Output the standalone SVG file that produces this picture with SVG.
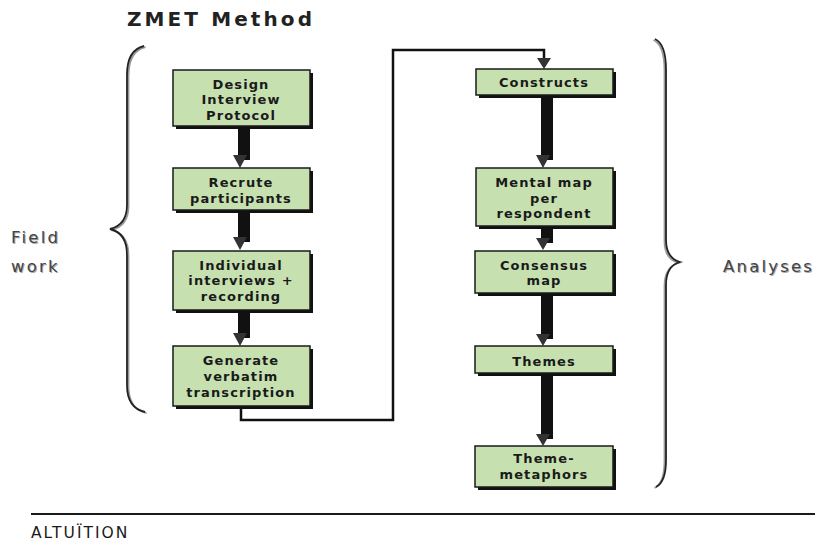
<svg xmlns="http://www.w3.org/2000/svg" width="815" height="541" viewBox="0 0 815 541">
<style>
.box{fill:#c6e0b0;stroke:#1a1a1a;stroke-width:1.5}
.sh{fill:#111}
.bt{font-family:"DejaVu Sans",Verdana,sans-serif;font-weight:bold;font-size:13px;fill:#1a1a1a;text-anchor:middle;letter-spacing:1.1px}
.side{font-family:"DejaVu Sans",Verdana,sans-serif;font-size:16.5px;fill:#444;letter-spacing:2.2px}
.sideSh{font-family:"DejaVu Sans",Verdana,sans-serif;font-size:16.5px;fill:#aaa;letter-spacing:2.2px}
.shaft{fill:#111}
.head{fill:#333}
.brace{fill:none;stroke:#222;stroke-width:1.8}
.braceSh{fill:none;stroke:#999;stroke-width:1.8}
</style>
<rect width="815" height="541" fill="#fff"/>
<text x="127" y="26" font-family="DejaVu Sans,Verdana,sans-serif" font-weight="bold" font-size="20" fill="#222" letter-spacing="3.1">ZMET Method</text>

<g id="connectors">
  <rect class="shaft" x="238" y="127" width="12" height="33"/>
  <polygon class="head" points="233,155 247,155 240,168"/>
  <rect class="shaft" x="238" y="211" width="12" height="31"/>
  <polygon class="head" points="233,237 247,237 240,250"/>
  <rect class="shaft" x="238" y="311" width="12" height="27"/>
  <polygon class="head" points="233,333 247,333 240,346"/>
  <polyline points="241,407 241,420 393,420 393,50 544,50 544,60" fill="none" stroke="#111" stroke-width="2.5"/>
  <polygon class="head" points="537,58 551,58 544,69"/>
  <rect class="shaft" x="541" y="96" width="12" height="64"/>
  <polygon class="head" points="536,155 550,155 543,168"/>
  <rect class="shaft" x="541" y="227" width="12" height="16"/>
  <polygon class="head" points="536,238 550,238 543,250"/>
  <rect class="shaft" x="541" y="294" width="12" height="45"/>
  <polygon class="head" points="536,334 550,334 543,346"/>
  <rect class="shaft" x="541" y="374" width="12" height="65"/>
  <polygon class="head" points="536,434 550,434 543,446"/>
</g>

<g id="n1"><rect class="sh" x="176" y="73" width="137" height="56"/><rect class="box" x="173" y="70" width="137" height="56"/>
<text class="bt" x="241" y="89">Design</text><text class="bt" x="241" y="104">Interview</text><text class="bt" x="241" y="120">Protocol</text></g>
<g id="n2"><rect class="sh" x="176" y="171" width="137" height="42"/><rect class="box" x="173" y="168" width="137" height="42"/>
<text class="bt" x="241" y="187">Recrute</text><text class="bt" x="241" y="203">participants</text></g>
<g id="n3"><rect class="sh" x="176" y="254" width="137" height="59"/><rect class="box" x="173" y="251" width="137" height="59"/>
<text class="bt" x="241" y="270">Individual</text><text class="bt" x="241" y="285">interviews +</text><text class="bt" x="241" y="301">recording</text></g>
<g id="n4"><rect class="sh" x="176" y="349" width="137" height="60"/><rect class="box" x="173" y="346" width="137" height="60"/>
<text class="bt" x="241" y="365">Generate</text><text class="bt" x="241" y="381">verbatim</text><text class="bt" x="241" y="397">transcription</text></g>

<g id="n5"><rect class="sh" x="479" y="72" width="137" height="26"/><rect class="box" x="476" y="69" width="137" height="26"/>
<text class="bt" x="544" y="87">Constructs</text></g>
<g id="n6"><rect class="sh" x="479" y="171" width="137" height="58"/><rect class="box" x="476" y="168" width="137" height="58"/>
<text class="bt" x="544" y="187">Mental map</text><text class="bt" x="544" y="203">per</text><text class="bt" x="544" y="218">respondent</text></g>
<g id="n7"><rect class="sh" x="478" y="254" width="138" height="42"/><rect class="box" x="475" y="251" width="138" height="42"/>
<text class="bt" x="544" y="270">Consensus</text><text class="bt" x="544" y="285">map</text></g>
<g id="n8"><rect class="sh" x="478" y="349" width="138" height="27"/><rect class="box" x="475" y="346" width="138" height="27"/>
<text class="bt" x="544" y="366">Themes</text></g>
<g id="n9"><rect class="sh" x="478" y="449" width="138" height="41"/><rect class="box" x="475" y="446" width="138" height="41"/>
<text class="bt" x="544" y="463">Theme-</text><text class="bt" x="544" y="479">metaphors</text></g>

<g id="leftBrace">
  <path class="braceSh" d="M144,46 Q127,50 127,75 L127,205 Q127,225 110,229 Q127,233 127,255 L127,385 Q127,408 145,412" transform="translate(1.5,1)"/>
  <path class="brace" d="M144,46 Q127,50 127,75 L127,205 Q127,225 110,229 Q127,233 127,255 L127,385 Q127,408 145,412"/>
</g>
<g id="rightBrace">
  <path class="braceSh" d="M655,39 Q666,44 666,70 L666,240 Q666,258 680,262 Q666,266 666,285 L666,460 Q666,482 656,487" transform="translate(-1.5,1)"/>
  <path class="brace" d="M655,39 Q666,44 666,70 L666,240 Q666,258 680,262 Q666,266 666,285 L666,460 Q666,482 656,487"/>
</g>

<g id="fieldwork">
<text class="sideSh" x="12" y="244">Field</text>
<text class="side" x="11" y="243">Field</text>
<text class="sideSh" x="12" y="273">work</text>
<text class="side" x="11" y="272">work</text>
</g>
<g id="analyses">
<text class="sideSh" x="724" y="273">Analyses</text>
<text class="side" x="723" y="272">Analyses</text>
</g>

<line x1="31" y1="514" x2="815" y2="514" stroke="#1a1a1a" stroke-width="2"/>
<text x="31" y="538" font-family="DejaVu Sans,Verdana,sans-serif" font-size="15.5" fill="#1a1a1a" letter-spacing="2">ALTUÏTION</text>
</svg>
